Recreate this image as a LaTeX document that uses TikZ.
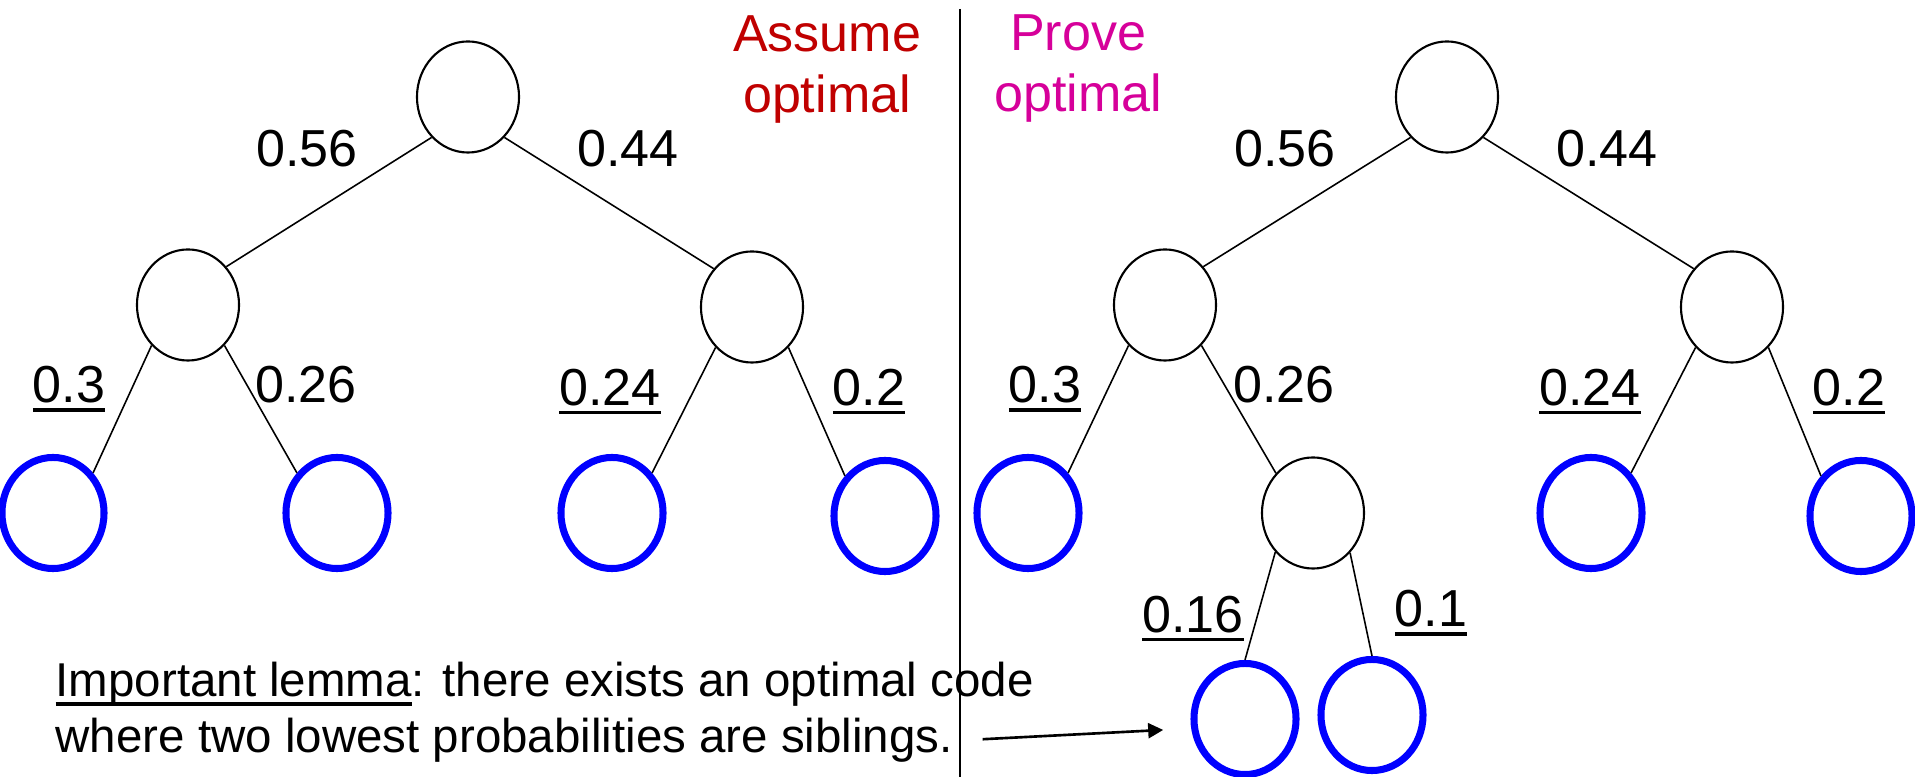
\documentclass[tikz,border=0pt]{standalone}
\usepackage{fontspec}
\setmainfont{Liberation Sans}
\usetikzlibrary{shapes.geometric,arrows.meta}
\definecolor{assume}{HTML}{C00000}
\definecolor{prove}{HTML}{D6009A}
\definecolor{leafblue}{HTML}{0000FF}
\newcommand{\ultext}[1]{\sbox0{#1}\rlap{\usebox0}\rule[-0.085cm]{\wd0}{0.035cm}}

\begin{document}
\begin{tikzpicture}[x=0.01cm, y=-0.01cm,
  inner/.style={draw, ellipse, line width=0.6pt, minimum width=1.02cm,
                minimum height=1.11cm, inner sep=0pt},
  leaf/.style={inner, draw=leafblue, line width=2pt},
  branch/.style={line width=0.45pt},
  prob/.style={anchor=base, inner sep=0pt, font=\fontsize{14.8}{17.5}\selectfont},
  head/.style={anchor=base, inner sep=0pt, align=center, font=\fontsize{14.8}{17.5}\selectfont},
  lemma/.style={anchor=base west, inner sep=0pt, font=\fontsize{13.5}{16.2}\selectfont},
  pointer/.style={line width=0.75pt, -{Triangle[length=0.15cm, width=0.15cm]}}
]

\fill[white] (0,0) rectangle (1915,777);
\useasboundingbox (0,0) rectangle (1915,777);

% divider
\coordinate (divtop) at (960,9);
\coordinate (divbot) at (960,777);
\draw[line width=0.6pt] (divtop) -- (divbot);

% left tree
\node[inner] (rootL) at (468,97) {};
\node[inner] (aL) at (188,305) {};
\node[inner] (bL) at (752,307) {};
\node[leaf] (L1) at (53,513) {};
\node[leaf] (L2) at (337,513) {};
\node[leaf] (L3) at (612,513) {};
\node[leaf] (L4) at (885,516) {};

\draw[branch] (rootL.228) -- (aL.45);
\draw[branch] (rootL.312) -- (bL.135);
\draw[branch] (aL.228) -- (L1.45);
\draw[branch] (aL.312) -- (L2.135);
\draw[branch] (bL.228) -- (L3.45);
\draw[branch] (bL.312) -- (L4.135);

\node[prob] (pL56) at (307,167) {0.56};
\node[prob] (pL44) at (628,167) {0.44};
\node[prob] (pL3) at (69,403) {\ultext{0.3}};
\node[prob] (pL26) at (306,403) {0.26};
\node[prob] (pL24) at (610,406) {\ultext{0.24}};
\node[prob] (pL2) at (869,406) {\ultext{0.2}};

% base is the last line
\node[head, text=assume] (assume) at (827,113) {Assume\\optimal};

% right tree
\node[inner] (rootR) at (1447,97) {};
\node[inner] (aR) at (1165,305) {};
\node[inner] (bR) at (1732,307) {};
\node[leaf] (R1) at (1028,513) {};
\node[inner] (cR) at (1313,513) {};
\node[leaf] (R3) at (1591,513) {};
\node[leaf] (R4) at (1861,516) {};
\node[leaf] (R5) at (1245,719) {};
\node[leaf] (R6) at (1372,715) {};

\draw[branch] (rootR.228) -- (aR.45);
\draw[branch] (rootR.312) -- (bR.135);
\draw[branch] (aR.228) -- (R1.45);
\draw[branch] (aR.312) -- (cR.133);
\draw[branch] (bR.228) -- (R3.45);
\draw[branch] (bR.312) -- (R4.135);
\draw[branch] (cR.226) -- (R5.north);
\draw[branch] (cR.313) -- (R6.north);

\node[prob] (pR56) at (1285,167) {0.56};
\node[prob] (pR44) at (1607,167) {0.44};
\node[prob] (pR3) at (1045,403) {\ultext{0.3}};
\node[prob] (pR26) at (1284,403) {0.26};
\node[prob] (pR24) at (1590,406) {\ultext{0.24}};
\node[prob] (pR2) at (1849,406) {\ultext{0.2}};
\node[prob] (pR16) at (1193,633) {\ultext{0.16}};
\node[prob] (pR1) at (1431,627) {\ultext{0.1}};

\node[head, text=prove] (prove) at (1078,112) {Prove\\optimal};

% lemma
\node[lemma] (lemma1) at (55,697) {\ultext{Important lemma}: there exists an optimal code};
\node[lemma] (lemma2) at (55,753) {where two lowest probabilities are siblings.};
\draw[pointer, shorten <=0.29cm, shorten >=0.28cm] (lemma2.east) -- (R5.190);

\end{tikzpicture}
\end{document}
